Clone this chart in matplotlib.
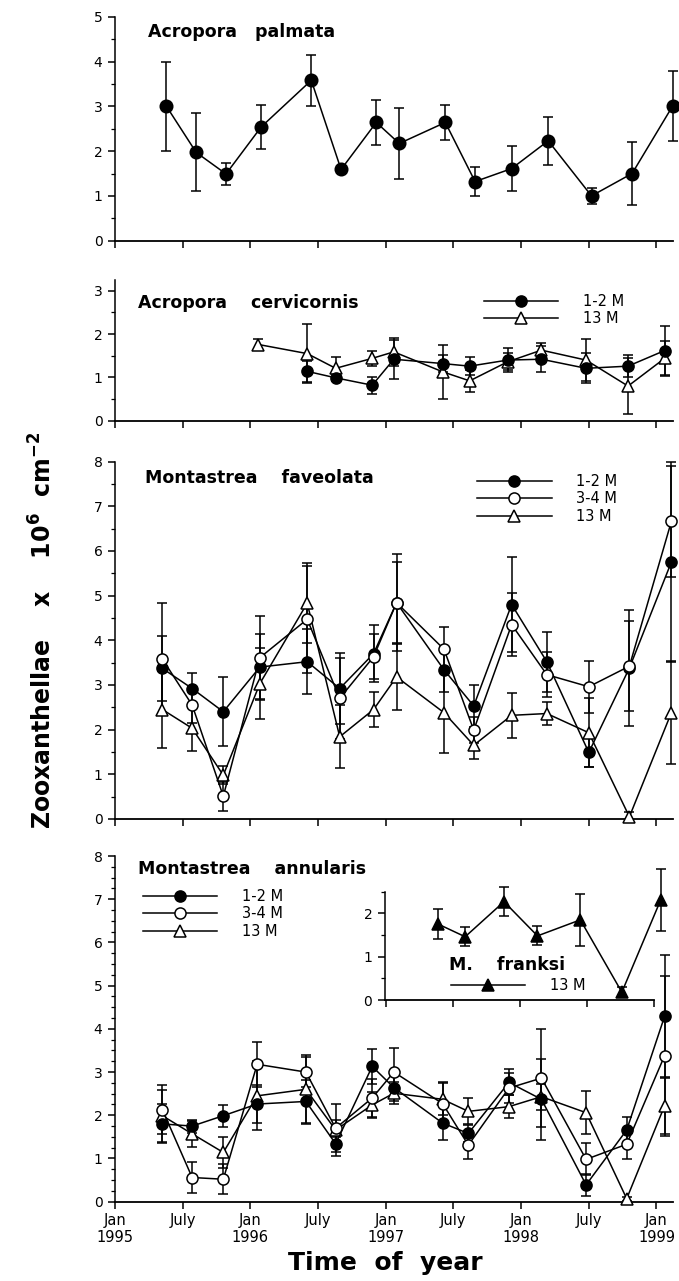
import numpy as np
import matplotlib
matplotlib.use("Agg")
import matplotlib.pyplot as plt
from matplotlib.lines import Line2D

nan = np.nan

# Acropora palmata
t_pal = [1995.38, 1995.60, 1995.82, 1996.08, 1996.45, 1996.67, 1996.93, 1997.10,
         1997.44, 1997.66, 1997.93, 1998.20, 1998.52, 1998.82, 1999.12]
pal = [3.0, 1.97, 1.49, 2.54, 3.58, 1.59, 2.64, 2.17, 2.64, 1.32, 1.61, 2.23, 1.00, 1.50, 3.01]
pal_se = [1.0, 0.87, 0.25, 0.49, 0.57, 0.0, 0.5, 0.8, 0.4, 0.32, 0.5, 0.53, 0.18, 0.7, 0.78]

# Acropora cervicornis
t_cer = [1996.06, 1996.42, 1996.63, 1996.90, 1997.06, 1997.42, 1997.62, 1997.90,
         1998.15, 1998.48, 1998.79, 1999.06]
cer_12 = [nan, 1.14, 0.99, 0.82, 1.42, 1.32, 1.26, 1.40, 1.42, 1.21, 1.26, 1.62]
cer_12_se = [0, 0.25, 0.08, 0.2, 0.45, 0.2, 0.2, 0.28, 0.3, 0.35, 0.25, 0.56]
cer_13 = [1.76, 1.55, 1.21, 1.44, 1.59, 1.13, 0.92, 1.36, 1.63, 1.40, 0.80, 1.44]
cer_13_se = [0.12, 0.68, 0.27, 0.18, 0.33, 0.63, 0.25, 0.2, 0.16, 0.48, 0.65, 0.4]

# Montastrea faveolata
t_fav = [1995.35, 1995.57, 1995.80, 1996.07, 1996.42, 1996.66, 1996.91, 1997.08,
         1997.43, 1997.65, 1997.93, 1998.19, 1998.50, 1998.80, 1999.11]
fav_12 = [3.37, 2.92, 2.40, 3.40, 3.52, 2.92, 3.70, 4.84, 3.34, 2.53, 4.80, 3.52, 1.49, 3.38, 5.75]
fav_12_se = [0.73, 0.34, 0.77, 0.73, 0.73, 0.8, 0.64, 0.9, 0.5, 0.47, 1.06, 0.67, 0.32, 1.3, 2.23]
fav_34 = [3.58, 2.55, 0.51, 3.61, 4.47, 2.70, 3.63, 4.84, 3.80, 1.99, 4.35, 3.23, 2.96, 3.42, 6.66]
fav_34_se = [1.25, 0.4, 0.32, 0.93, 1.2, 0.9, 0.5, 1.08, 0.5, 0.3, 0.7, 0.5, 0.58, 1.0, 1.25]
fav_13 = [2.45, 2.03, 0.98, 3.03, 4.83, 1.84, 2.45, 3.18, 2.38, 1.65, 2.32, 2.36, 1.93, 0.05, 2.38]
fav_13_se = [0.87, 0.5, 0.2, 0.8, 0.9, 0.7, 0.4, 0.73, 0.9, 0.3, 0.5, 0.25, 0.77, 0.1, 1.15]

# Montastrea annularis
t_ann = [1995.35, 1995.57, 1995.80, 1996.05, 1996.41, 1996.63, 1996.90, 1997.06,
         1997.42, 1997.61, 1997.91, 1998.15, 1998.48, 1998.78, 1999.06]
ann_12 = [1.80, 1.75, 1.99, 2.26, 2.32, 1.34, 3.13, 2.64, 1.82, 1.58, 2.76, 2.37, 0.39, 1.66, 4.29]
ann_12_se = [0.45, 0.15, 0.25, 0.45, 0.5, 0.2, 0.4, 0.3, 0.4, 0.2, 0.3, 0.94, 0.25, 0.3, 1.41]
ann_34 = [2.13, 0.56, 0.52, 3.18, 3.00, 1.70, 2.40, 3.00, 2.27, 1.31, 2.63, 2.86, 0.98, 1.33, 3.38]
ann_34_se = [0.57, 0.36, 0.35, 0.52, 0.35, 0.2, 0.45, 0.55, 0.5, 0.33, 0.35, 1.14, 0.37, 0.34, 1.85]
ann_13 = [1.99, 1.57, 1.14, 2.45, 2.60, 1.66, 2.24, 2.51, 2.37, 2.09, 2.20, 2.43, 2.06, 0.07, 2.22]
ann_13_se = [0.6, 0.3, 0.35, 0.8, 0.8, 0.6, 0.3, 0.25, 0.37, 0.3, 0.27, 0.3, 0.5, 0.05, 0.65]

# M. franksi (inset)
t_fra = [1997.39, 1997.59, 1997.88, 1998.13, 1998.45, 1998.76, 1999.05]
fra = [1.75, 1.46, 2.27, 1.48, 1.85, 0.18, 2.31]
fra_se = [0.35, 0.22, 0.33, 0.22, 0.6, 0.12, 0.72]

xticks = [1995.0, 1995.5, 1996.0, 1996.5, 1997.0, 1997.5, 1998.0, 1998.5, 1999.0]
xticklabels = ["Jan\n1995", "July", "Jan\n1996", "July", "Jan\n1997", "July",
               "Jan\n1998", "July", "Jan\n1999"]

plt.rcParams["font.family"] = "DejaVu Sans"

fig = plt.figure(figsize=(6.79, 12.81), dpi=100)

L, W = 115 / 679, 558 / 679
def px_axes(top, bottom):
    return [L, 1 - bottom / 1281, W, (bottom - top) / 1281]

ax1 = fig.add_axes(px_axes(16.7, 240.7))
ax2 = fig.add_axes(px_axes(280, 420.7))
ax3 = fig.add_axes(px_axes(461.5, 819))
ax4 = fig.add_axes(px_axes(856, 1201.7))
axi = fig.add_axes([384.8 / 679, 1 - 1000 / 1281, 269.2 / 679, 108.3 / 1281])

MS = 8
styles = {
    "fill": dict(marker="o", mfc="black"),
    "open": dict(marker="o", mfc="white"),
    "tri": dict(marker="^", mfc="white"),
    "ftri": dict(marker="^", mfc="black"),
}

def series(ax, x, y, se, kind, ms=MS):
    ax.errorbar(x, y, yerr=se, color="black", lw=1.1, elinewidth=1.1, capsize=3.5,
                capthick=1.1, ms=ms, mec="black", mew=1.1, clip_on=False,
                zorder=3, **styles[kind])

def legend(ax, kinds, labels, x, y):
    hs = [Line2D([], [], color="black", lw=1.1, ms=MS, mec="black", mew=1.1, **styles[k])
          for k in kinds]
    ax.legend(hs, labels, loc="upper left", bbox_to_anchor=(x, y), frameon=False,
              handlelength=5.1, handletextpad=1.7, labelspacing=0.17, borderpad=0,
              borderaxespad=0, numpoints=1, fontsize=10.5)

def style(ax, ymax, minor, xlim=(1995.0, 1999.122), xt=xticks):
    ax.set_xlim(*xlim)
    ax.set_ylim(0, ymax)
    for s in ("top", "right"):
        ax.spines[s].set_visible(False)
    ax.spines["left"].set_linewidth(1.1)
    ax.spines["bottom"].set_linewidth(1.3)
    ax.set_yticks(np.arange(0, int(ymax) + 1))
    ax.set_yticks(np.arange(0, ymax + 1e-6, minor), minor=True)
    ax.set_xticks(xt)
    ax.tick_params(axis="both", which="major", direction="out", length=5, width=1.1,
                   labelsize=10, pad=4)
    ax.tick_params(axis="y", which="minor", direction="out", length=3, width=0.9)
    ax.tick_params(axis="x", which="minor", length=0)
    ax.set_xticklabels([])
    ax.patch.set_alpha(0)

def title(ax, text, x, y):
    ax.text(x, y, text, transform=ax.transAxes, fontsize=12.5, fontweight="bold",
            va="baseline", ha="left")

# panel 1
series(ax1, t_pal, pal, pal_se, "fill", ms=9)
style(ax1, 5, 0.5)
title(ax1, "Acropora   palmata", 0.059, 0.908)

# panel 2
series(ax2, t_cer, cer_13, cer_13_se, "tri")
series(ax2, t_cer, cer_12, cer_12_se, "fill")
style(ax2, 3.25, 0.5)
title(ax2, "Acropora    cervicornis", 0.041, 0.799)
legend(ax2, ["fill", "tri"], ["1-2 M", "13 M"], 0.661, 0.903)

# panel 3
series(ax3, t_fav, fav_13, fav_13_se, "tri")
series(ax3, t_fav, fav_12, fav_12_se, "fill")
series(ax3, t_fav, fav_34, fav_34_se, "open")
style(ax3, 8, 0.5)
title(ax3, "Montastrea    faveolata", 0.054, 0.941)
legend(ax3, ["fill", "open", "tri"], ["1-2 M", "3-4 M", "13 M"], 0.649, 0.966)

# panel 4
series(ax4, t_ann, ann_13, ann_13_se, "tri")
series(ax4, t_ann, ann_12, ann_12_se, "fill")
series(ax4, t_ann, ann_34, ann_34_se, "open")
style(ax4, 8, 0.25)
ax4.set_xticklabels(xticklabels, fontsize=10.5, linespacing=1.2)
ax4.tick_params(axis="x", pad=3)
title(ax4, "Montastrea    annularis", 0.041, 0.947)
legend(ax4, ["fill", "open", "tri"], ["1-2 M", "3-4 M", "13 M"], 0.05, 0.905)

# inset
series(axi, t_fra, fra, fra_se, "ftri")
style(axi, 2.5, 0.5, xlim=(1996.99, 1998.98), xt=xticks[4:])
axi.text(0.238, 0.277, "M.    franksi", transform=axi.transAxes, fontsize=12.5,
         fontweight="bold", va="baseline", ha="left")
legend(axi, ["ftri"], ["13 M"], 0.246, 0.20)

fig.text(0.064, 0.508,
         r"Zooxanthellae    x    10$^{\mathbf{6}}$  cm$^{\mathbf{-2}}$",
         rotation=90, fontsize=17, fontweight="bold", ha="center", va="center")
fig.text(0.567, 1 - 1270 / 1281, "Time  of  year", fontsize=18, fontweight="bold",
         ha="center", va="baseline")

fig.savefig("out.png", dpi=100)
